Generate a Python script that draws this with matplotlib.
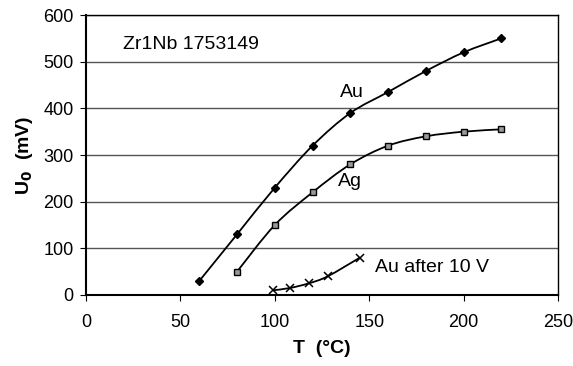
import numpy as np
import matplotlib.pyplot as plt
from matplotlib.path import Path
from matplotlib.patches import PathPatch

plt.rcParams['font.family'] = ['Liberation Sans', 'DejaVu Sans']

# measured points
t_au = [60, 80, 100, 120, 140, 160, 180, 200, 220]
u_au = [30, 130, 230, 320, 390, 435, 480, 520, 550]

t_ag = [80, 100, 120, 140, 160, 180, 200, 220]
u_ag = [50, 150, 220, 280, 320, 340, 350, 355]

t_au10 = [99, 108, 118, 128, 145]
u_au10 = [10, 15, 25, 40, 80]


def smooth_path(x, y, k=1/6):
    # cubic Bezier through the points, Catmull-Rom style tangents
    x = np.asarray(x, float)
    y = np.asarray(y, float)
    n = len(x)
    verts = [(x[0], y[0])]
    codes = [Path.MOVETO]
    for i in range(n - 1):
        i0 = max(i - 1, 0)
        i3 = min(i + 2, n - 1)
        c1 = (x[i] + k * (x[i + 1] - x[i0]), y[i] + k * (y[i + 1] - y[i0]))
        c2 = (x[i + 1] - k * (x[i3] - x[i]), y[i + 1] - k * (y[i3] - y[i]))
        verts += [c1, c2, (x[i + 1], y[i + 1])]
        codes += [Path.CURVE4] * 3
    return Path(verts, codes)


fig = plt.figure(figsize=(5.73, 3.66), dpi=100)
ax = fig.add_axes([0.150, 0.194, 0.824, 0.765])

for tx, uy in [(t_au, u_au), (t_ag, u_ag), (t_au10, u_au10)]:
    ax.add_patch(PathPatch(smooth_path(tx, uy), fill=False, lw=1.3, color='black', zorder=3))

ax.plot(t_au, u_au, ls='none', marker='D', ms=4, color='black', zorder=4)
ax.plot(t_ag, u_ag, ls='none', marker='s', ms=5, mfc='#999999', mec='black', mew=1, zorder=4)
ax.plot(t_au10, u_au10, ls='none', marker='x', ms=6, mew=1.1, color='black', zorder=4)

ax.set_xlim(0, 250)
ax.set_ylim(0, 600)
ax.set_xticks(range(0, 251, 50))
ax.set_yticks(range(0, 601, 100))
ax.yaxis.grid(True, color='#555555', lw=1)
ax.set_axisbelow(True)
ax.tick_params(direction='out', length=4, labelsize=13, color='black')
ax.tick_params(axis='x', pad=10)
ax.tick_params(axis='y', pad=5)
for s in ax.spines.values():
    s.set_color('black')
    s.set_linewidth(1)
ax.spines['bottom'].set_linewidth(1.5)
ax.spines['left'].set_linewidth(1.5)

ax.set_xlabel('T  (°C)', fontsize=14, fontweight='bold', labelpad=6)
ax.set_ylabel('U$_\\mathbf{0}$  (mV)', fontsize=14, fontweight='bold', labelpad=6)

ax.text(19.5, 536, 'Zr1Nb 1753149', fontsize=14, va='center')
ax.text(141, 433, 'Au', fontsize=14, ha='center', va='center')
ax.text(140, 243, 'Ag', fontsize=14, ha='center', va='center')
ax.text(153, 58, 'Au after 10 V', fontsize=14, va='center')

plt.savefig('out.png', dpi=100)
